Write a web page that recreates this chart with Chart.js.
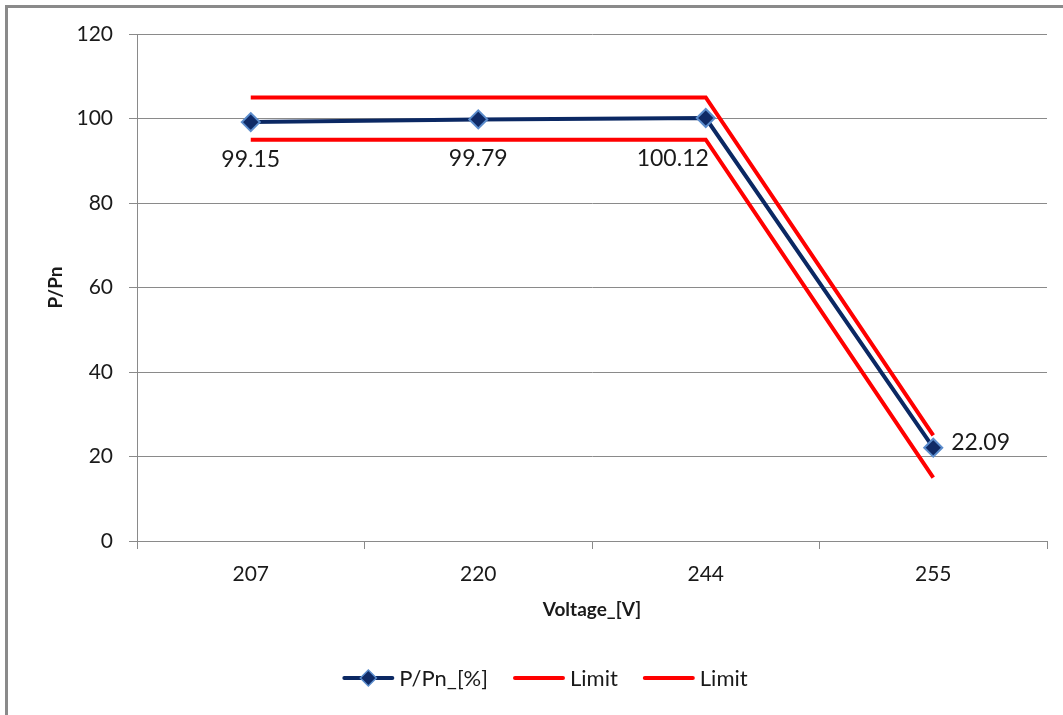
<!DOCTYPE html>
<html>
<head>
<meta charset="utf-8">
<script src="https://cdn.jsdelivr.net/npm/chart.js@4"></script>
<style>
html,body{margin:0;padding:0;background:#fff}
#wrap{position:relative;width:1063px;height:715px}
</style>
</head>
<body>
<div id="wrap"><canvas id="PowerChartHTML" width="1063" height="715"></canvas></div>
<script>
//												Data
const VoltageLabels=['207','220','244','255']
const PowerValues=[99.15,99.79,100.12,22.09]
const UpperLimit=[105,105,105,25]
const LowerLimit=[95,95,95,15]

const FONT='Lato, "Open Sans", sans-serif'
const NAVY='#0b2863'
const GRID='#8a8a8a'

//												Plugins
const framePlugin={id:'frame',beforeDraw(c){const x=c.ctx;x.save();x.fillStyle='#fff';x.fillRect(0,0,c.width,c.height);x.strokeStyle=GRID;x.lineWidth=3;x.strokeRect(6.5,6.5,c.width+20,c.height+20);x.restore()}}

// label offsets from the point, per index: [dx,dy,align]
const labelPlugin={id:'pointLabels',afterDatasetsDraw(c,a,opts){
	const x=c.ctx;const meta=c.getDatasetMeta(0);x.save();x.font='23px '+FONT;x.fillStyle='#1a1a1a';x.textBaseline='middle'
	meta.data.forEach((p,i)=>{const o=opts.offsets[i];x.textAlign=o[2];x.fillText(PowerValues[i].toFixed(2),p.x+o[0],p.y+o[1])})
	x.restore()}}

const legendPlugin={id:'bottomLegend',afterDraw(c,a,opts){
	const x=c.ctx;x.save();x.font='22px '+FONT;x.textBaseline='middle'
	const items=c.data.datasets.map(d=>({t:d.label,col:d.borderColor,mk:d.pointRadius>0,bg:d.pointBackgroundColor,bc:d.pointBorderColor}))
	const sw=52,gap=5,sp=25
	let tot=0;items.forEach((it,i)=>{it.w=sw+gap+x.measureText(it.t).width;tot+=it.w+(i?sp:0)})
	let px=opts.center-tot/2;const y=opts.y
	items.forEach(it=>{
		x.strokeStyle=it.col;x.lineWidth=4;x.lineCap='round';x.beginPath();x.moveTo(px+2,y);x.lineTo(px+sw-2,y);x.stroke()
		if(it.mk){const cx=px+sw/2;x.beginPath();x.moveTo(cx,y-8);x.lineTo(cx+8,y);x.lineTo(cx,y+8);x.lineTo(cx-8,y);x.closePath();x.fillStyle=it.bg;x.fill();x.strokeStyle=it.bc;x.lineWidth=1.5;x.stroke()}
		x.fillStyle='#1a1a1a';x.textAlign='left';x.fillText(it.t,px+sw+gap,y+1)
		px+=it.w+sp})
	x.restore()}}

//												Chart
const PowerChart=new Chart(document.getElementById('PowerChartHTML'),{
	type:'line',
	plugins:[framePlugin,labelPlugin,legendPlugin],
	data:{
		labels:VoltageLabels,
		datasets:[
			{label:'P/Pn_[%]',data:PowerValues,borderColor:NAVY,borderWidth:4,pointStyle:'rectRot',pointRadius:9,pointBackgroundColor:'#0f2a66',pointBorderColor:'#5b8ccc',pointBorderWidth:2,tension:0},
			{label:'Limit',data:UpperLimit,borderColor:'#ff0000',borderWidth:4,pointRadius:0,tension:0},
			{label:'Limit',data:LowerLimit,borderColor:'#ff0000',borderWidth:4,pointRadius:0,tension:0}
		]
	},
	options:{
		responsive:false,animation:false,
		layout:{padding:{left:0,top:34,right:16,bottom:0}},
		plugins:{
			legend:{display:false},tooltip:{enabled:false},
			pointLabels:{offsets:[[0,37,'center'],[0,39,'center'],[-33,41,'center'],[18,-5,'left']]},
			bottomLegend:{center:545,y:678}
		},
		scales:{
			x:{
				offset:true,
				afterFit(s){s.height=174},
				grid:{display:true,drawOnChartArea:false,tickLength:8,color:GRID,offset:true},
				border:{color:GRID,width:1},
				ticks:{font:{family:FONT,size:21},color:'#1a1a1a',padding:13,maxRotation:0},
				title:{display:true,text:'Voltage_[V]',font:{family:FONT,size:19,weight:'bold'},color:'#1a1a1a',padding:{top:0,bottom:94}}
			},
			y:{
				min:0,max:120,
				afterFit(s){s.width=137},
				grid:{color:GRID,tickLength:8},
				border:{color:GRID,width:1},
				ticks:{stepSize:20,font:{family:FONT,size:21},color:'#1a1a1a',padding:16},
				title:{display:true,text:'P/Pn',font:{family:FONT,size:19,weight:'bold'},color:'#1a1a1a',padding:{top:44,bottom:0}}
			}
		}
	}
})
</script>
</body>
</html>
